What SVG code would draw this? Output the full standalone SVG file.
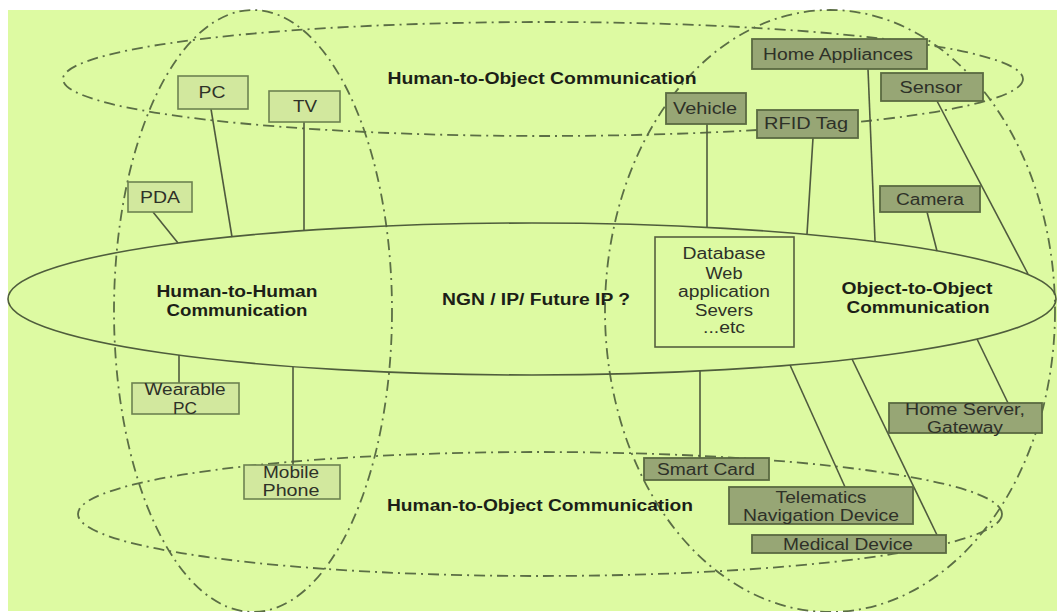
<svg xmlns="http://www.w3.org/2000/svg" width="1057" height="612" viewBox="0 0 1057 612">
  <style>
    .zone { fill: none; stroke: #5b6e45; stroke-width: 1.8; stroke-dasharray: 11 5 2 5; }
    .core { fill: none; stroke: #4f5d3c; stroke-width: 1.6; }
    .link { stroke: #4f5a3e; stroke-width: 1.6; fill: none; }
    .lite { fill: #d2e89e; stroke: #6d8250; stroke-width: 1.6; }
    .dark { fill: #97a675; stroke: #5a6a42; stroke-width: 1.8; }
    .plain { fill: none; stroke: #56603f; stroke-width: 1.6; }
    .lbl { font-family: "Liberation Sans", Arial, sans-serif; font-size: 16px; fill: #2e3128; text-anchor: middle; }
    .head { font-family: "Liberation Sans", Arial, sans-serif; font-size: 16px; font-weight: bold; fill: #1c1f17; text-anchor: middle; }
  </style>

  <!-- page background -->
  <rect x="0" y="0" width="1057" height="612" fill="#ffffff"/>
  <rect x="8" y="10" width="1049" height="601" fill="#ddfaa2"/>

  <!-- communication zones -->
  <g id="zones">
    <ellipse class="zone" cx="253" cy="311" rx="139" ry="301"/>
    <ellipse class="zone" cx="830" cy="311" rx="225" ry="301"/>
    <ellipse class="zone" cx="543" cy="79" rx="480" ry="57"/>
    <ellipse class="zone" cx="540" cy="514" rx="462" ry="62"/>
    <ellipse class="core" cx="532" cy="299" rx="524" ry="76"/>
  </g>

  <!-- connectors -->
  <g id="connectors">
    <line class="link" x1="211" y1="109" x2="232" y2="237"/>
    <line class="link" x1="304" y1="122" x2="304" y2="231"/>
    <line class="link" x1="153" y1="212" x2="178" y2="243"/>
    <line class="link" x1="179" y1="355" x2="179" y2="383"/>
    <line class="link" x1="293" y1="367" x2="293" y2="465"/>
    <line class="link" x1="707" y1="124" x2="707" y2="227"/>
    <line class="link" x1="813" y1="138" x2="807" y2="234"/>
    <line class="link" x1="868" y1="69" x2="875" y2="241"/>
    <line class="link" x1="927" y1="212" x2="937" y2="251"/>
    <line class="link" x1="937" y1="101" x2="1028" y2="274"/>
    <line class="link" x1="700" y1="371" x2="700" y2="458"/>
    <line class="link" x1="790" y1="365" x2="845" y2="487"/>
    <line class="link" x1="852" y1="359" x2="937" y2="535"/>
    <line class="link" x1="977" y1="339" x2="1008" y2="403"/>
  </g>

  <!-- zone titles -->
  <g id="titles">
    <text class="head" x="542" y="84" textLength="309" lengthAdjust="spacingAndGlyphs">Human-to-Object Communication</text>
    <text class="head" x="540" y="511" textLength="306" lengthAdjust="spacingAndGlyphs">Human-to-Object Communication</text>
    <text class="head" x="237" y="297" textLength="161" lengthAdjust="spacingAndGlyphs">Human-to-Human</text>
    <text class="head" x="237" y="316" textLength="141" lengthAdjust="spacingAndGlyphs">Communication</text>
    <text class="head" x="536" y="305" textLength="188" lengthAdjust="spacingAndGlyphs">NGN / IP/ Future IP ?</text>
    <text class="head" x="917" y="294" textLength="151" lengthAdjust="spacingAndGlyphs">Object-to-Object</text>
    <text class="head" x="918" y="313" textLength="143" lengthAdjust="spacingAndGlyphs">Communication</text>
  </g>

  <!-- human-side devices -->
  <g id="pc">
    <rect class="lite" x="178" y="76" width="70" height="33"/>
    <text class="lbl" x="212" y="98" textLength="27" lengthAdjust="spacingAndGlyphs">PC</text>
  </g>
  <g id="tv">
    <rect class="lite" x="269" y="91" width="71" height="31"/>
    <text class="lbl" x="305" y="112" textLength="24" lengthAdjust="spacingAndGlyphs">TV</text>
  </g>
  <g id="pda">
    <rect class="lite" x="128" y="182" width="64" height="30"/>
    <text class="lbl" x="160" y="203" textLength="40" lengthAdjust="spacingAndGlyphs">PDA</text>
  </g>
  <g id="wearable-pc">
    <rect class="lite" x="132" y="383" width="107" height="31"/>
    <text class="lbl" x="185" y="395" textLength="81" lengthAdjust="spacingAndGlyphs">Wearable</text>
    <text class="lbl" x="185" y="414" textLength="24" lengthAdjust="spacingAndGlyphs">PC</text>
  </g>
  <g id="mobile-phone">
    <rect class="lite" x="244" y="465" width="96" height="34"/>
    <text class="lbl" x="291" y="478" textLength="56" lengthAdjust="spacingAndGlyphs">Mobile</text>
    <text class="lbl" x="291" y="496" textLength="57" lengthAdjust="spacingAndGlyphs">Phone</text>
  </g>

  <!-- service platform -->
  <g id="services">
    <rect class="plain" x="655" y="237" width="139" height="110"/>
    <text class="lbl" x="724" y="259" textLength="83" lengthAdjust="spacingAndGlyphs">Database</text>
    <text class="lbl" x="724" y="279" textLength="37" lengthAdjust="spacingAndGlyphs">Web</text>
    <text class="lbl" x="724" y="297" textLength="92" lengthAdjust="spacingAndGlyphs">application</text>
    <text class="lbl" x="724" y="316" textLength="58" lengthAdjust="spacingAndGlyphs">Severs</text>
    <text class="lbl" x="724" y="333" textLength="42" lengthAdjust="spacingAndGlyphs">...etc</text>
  </g>

  <!-- object-side devices -->
  <g id="vehicle">
    <rect class="dark" x="666" y="93" width="80" height="31"/>
    <text class="lbl" x="705" y="114" textLength="64" lengthAdjust="spacingAndGlyphs">Vehicle</text>
  </g>
  <g id="home-appliances">
    <rect class="dark" x="752" y="39" width="175" height="30"/>
    <text class="lbl" x="838" y="60" textLength="150" lengthAdjust="spacingAndGlyphs">Home Appliances</text>
  </g>
  <g id="sensor">
    <rect class="dark" x="881" y="73" width="102" height="28"/>
    <text class="lbl" x="931" y="93" textLength="63" lengthAdjust="spacingAndGlyphs">Sensor</text>
  </g>
  <g id="rfid-tag">
    <rect class="dark" x="757" y="110" width="101" height="28"/>
    <text class="lbl" x="806" y="129" textLength="84" lengthAdjust="spacingAndGlyphs">RFID Tag</text>
  </g>
  <g id="camera">
    <rect class="dark" x="880" y="186" width="100" height="26"/>
    <text class="lbl" x="930" y="205" textLength="68" lengthAdjust="spacingAndGlyphs">Camera</text>
  </g>
  <g id="home-server">
    <rect class="dark" x="889" y="403" width="153" height="30"/>
    <text class="lbl" x="965" y="415" textLength="120" lengthAdjust="spacingAndGlyphs">Home Server,</text>
    <text class="lbl" x="965" y="433" textLength="76" lengthAdjust="spacingAndGlyphs">Gateway</text>
  </g>
  <g id="smart-card">
    <rect class="dark" x="644" y="458" width="125" height="22"/>
    <text class="lbl" x="706" y="475" textLength="98" lengthAdjust="spacingAndGlyphs">Smart Card</text>
  </g>
  <g id="telematics">
    <rect class="dark" x="729" y="487" width="184" height="37"/>
    <text class="lbl" x="821" y="503" textLength="91" lengthAdjust="spacingAndGlyphs">Telematics</text>
    <text class="lbl" x="821" y="521" textLength="156" lengthAdjust="spacingAndGlyphs">Navigation Device</text>
  </g>
  <g id="medical-device">
    <rect class="dark" x="752" y="535" width="194" height="18"/>
    <text class="lbl" x="848" y="550" textLength="130" lengthAdjust="spacingAndGlyphs">Medical Device</text>
  </g>
</svg>
